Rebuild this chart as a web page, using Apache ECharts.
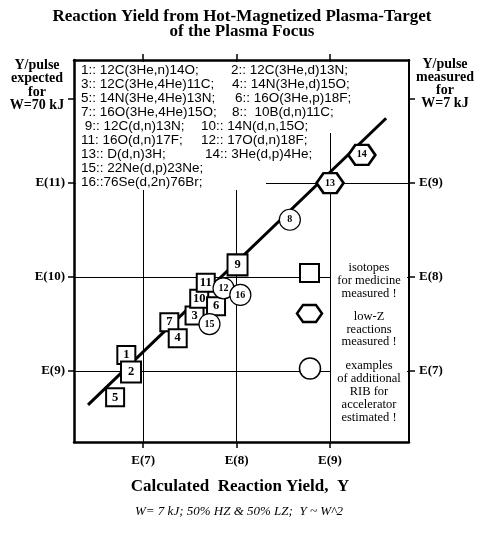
<!DOCTYPE html>
<html>
<head>
<meta charset="utf-8">
<script src="https://cdn.jsdelivr.net/npm/echarts@6/dist/echarts.min.js"></script>
<style>
  html, body { margin: 0; padding: 0; background: #fff; }
  #chart { width: 484px; height: 534px; }
</style>
</head>
<body>
<div id="chart"></div>
<script>
// all values are decades, i.e. log10 of the yield
const xTicks = [7, 8, 9];
const yLeftTicks = [9, 10, 11];
const yRightTicks = [7, 8, 9];

// isotopes for medicine (squares)
const boxIds = ['5', '1', '2', '7', '4', '3', '10', '6', '11', '9'];
const boxX = [6.70, 6.82, 6.87, 7.28, 7.37, 7.55, 7.60, 7.78, 7.67, 8.01];
const boxY = [8.72, 9.17, 8.99, 9.52, 9.35, 9.59, 9.77, 9.69, 9.94, 10.13];

// RIB examples (circles)
const ringIds = ['15', '12', '16', '8'];
const ringX = [7.71, 7.86, 8.04, 8.57];
const ringY = [9.50, 9.88, 9.81, 10.61];

// low-Z reactions (hexagons)
const hexIds = ['13', '14'];
const hexX = [9.00, 9.34];
const hexY = [11.00, 11.30];

// fitted trend line
const fitX = [6.41, 9.60];
const fitY = [8.64, 11.69];

const reactionsLeft = [
  '1:: 12C(3He,n)14O;', '3:: 12C(3He,4He)11C;', '5:: 14N(3He,4He)13N;',
  '7:: 16O(3He,4He)15O;', ' 9:: 12C(d,n)13N;', '11: 16O(d,n)17F;',
  '13:: D(d,n)3H;', '15:: 22Ne(d,p)23Ne;', '16::76Se(d,2n)76Br;'
];
const reactionsRight = [
  '2:: 12C(3He,d)13N;', '4:: 14N(3He,d)15O;', '6:: 16O(3He,p)18F;',
  '8::  10B(d,n)11C;', '10:: 14N(d,n,15O;', '12:: 17O(d,n)18F;',
  '14:: 3He(d,p)4He;'
];

const bigBoxes = ['2', '9'];
const serif = '"Liberation Serif", "Times New Roman", serif';
const sans = '"Liberation Sans", Arial, sans-serif';

const zip = (ids, xs, ys) => ids.map((id, i) => ({ name: id, value: [xs[i], ys[i]] }));
const eLabel = v => 'E(' + v + ')';

const chart = echarts.init(document.getElementById('chart'));

function axisBase(min, max, ticks, pos, showLabel) {
  return {
    type: 'value',
    position: pos,
    min: min,
    max: max,
    axisLine: { show: true, onZero: false, lineStyle: { color: '#000', width: 2.5 } },
    axisTick: { show: true, customValues: ticks, length: 6, lineStyle: { color: '#000', width: 1.5 } },
    axisLabel: {
      show: showLabel,
      customValues: showLabel ? ticks.filter(t => Number.isInteger(t)) : undefined,
      formatter: eLabel,
      fontFamily: serif, fontWeight: 'bold', fontSize: 13, color: '#000'
    },
    splitLine: { show: false }
  };
}

const xBottom = axisBase(6.26, 9.845, xTicks, 'bottom', true);
xBottom.axisLabel.margin = 12;
const xTop = axisBase(6.26, 9.845, xTicks, 'top', false);
const yLeft = axisBase(8.245, 12.31, yLeftTicks.concat([11.9]), 'left', true);
yLeft.axisLabel.margin = 9;
const yRight = axisBase(6.245, 10.31, yRightTicks.concat([9.9]), 'right', true);
yRight.axisLabel.margin = 10;
yRight.axisLine.lineStyle.width = 2;

// legend + annotation texts
const graphics = [];
const addText = (x, y, text, font, align) => graphics.push({
  type: 'text', x: x, y: y, z: 60,
  style: { text: text, font: font, fill: '#000', textAlign: align || 'center', textVerticalAlign: 'middle' }
});

// white areas that hide grid lines behind the texts
graphics.push({ type: 'rect', z: 50, shape: { x: 76, y: 62, width: 190, height: 128 }, style: { fill: '#fff' } });
graphics.push({ type: 'rect', z: 50, shape: { x: 76, y: 62, width: 277, height: 71 }, style: { fill: '#fff' } });
graphics.push({ type: 'rect', z: 50, shape: { x: 331, y: 185, width: 76, height: 255 }, style: { fill: '#fff' } });

reactionsLeft.forEach((t, i) => addText(81, 70 + i * 14, t, '13.5px ' + sans, 'left'));
const rightX = [231, 232, 235, 232, 201, 201, 205];
reactionsRight.forEach((t, i) => addText(rightX[i], 70 + i * 14, t, '13.5px ' + sans, 'left'));

const boldSerif = 'bold 14px ' + serif;
['Y/pulse', 'expected', 'for', 'W=70 kJ'].forEach((t, i) => addText(37, 65 + i * 13.5, t, boldSerif));
['Y/pulse', 'measured', 'for', 'W=7 kJ'].forEach((t, i) => addText(445, 64 + i * 13, t, boldSerif));

const legSerif = '500 12.5px ' + serif;
['isotopes', 'for medicine', 'measured !'].forEach((t, i) => addText(369, 268 + i * 13, t, legSerif));
['low-Z', 'reactions', 'measured !'].forEach((t, i) => addText(369, 317 + i * 12.5, t, legSerif));
['examples', 'of additional', 'RIB for', 'accelerator', 'estimated !'].forEach((t, i) => addText(369, 366 + i * 13, t, legSerif));

graphics.push({ type: 'rect', z: 60, shape: { x: 300, y: 264, width: 19, height: 18 }, style: { fill: '#fff', stroke: '#000', lineWidth: 2 } });
graphics.push({ type: 'polygon', z: 60, shape: { points: [[297, 313.5], [303, 305], [316, 305], [322, 313.5], [316, 322], [303, 322]] }, style: { fill: '#fff', stroke: '#000', lineWidth: 2.5 } });
graphics.push({ type: 'circle', z: 60, shape: { cx: 310, cy: 368.5, r: 10.5 }, style: { fill: '#fff', stroke: '#000', lineWidth: 1.5 } });

addText(240, 487, 'Calculated  Reaction Yield,  Y', 'bold 17px ' + serif);
addText(239, 512, 'W= 7 kJ; 50% HZ & 50% LZ;  Y ~ W^2', 'italic 13px ' + serif);

const markerLabel = size => ({
  show: true, position: 'inside', formatter: '{b}',
  fontFamily: serif, fontWeight: 'bold', fontSize: size, color: '#000'
});

const option = {
  animation: false,
  backgroundColor: '#fff',
  title: {
    text: 'Reaction Yield from Hot-Magnetized Plasma-Target\nof the Plasma Focus',
    left: 'center', top: 4,
    textStyle: { fontFamily: serif, fontWeight: 'bold', fontSize: 17, lineHeight: 15, color: '#000' }
  },
  grid: { left: 74, top: 60, width: 335, height: 382, containLabel: false },
  xAxis: [xBottom, xTop],
  yAxis: [yLeft, yRight],
  graphic: graphics,
  series: [
    {
      // grid lines at the labelled decades
      type: 'line', silent: true, z: 1, symbol: 'none', data: [],
      markLine: {
        silent: true, symbol: 'none', label: { show: false },
        lineStyle: { color: '#000', width: 1, type: 'solid' },
        data: xTicks.map(v => ({ xAxis: v })).concat(yLeftTicks.map(v => ({ yAxis: v })))
      }
    },
    {
      type: 'line', silent: true, z: 70, symbol: 'none',
      data: fitX.map((x, i) => [x, fitY[i]]),
      lineStyle: { color: '#000', width: 3 }
    },
    {
      type: 'scatter', z: 71, symbol: 'rect',
      symbolSize: (v, p) => bigBoxes.includes(p.name) ? [20, 21] : [18, 18],
      data: zip(boxIds, boxX, boxY),
      itemStyle: { color: '#fff', borderColor: '#000', borderWidth: 2, opacity: 1 },
      label: markerLabel(12.5)
    },
    {
      type: 'scatter', z: 72, symbol: 'circle', symbolSize: 21,
      data: zip(ringIds, ringX, ringY),
      itemStyle: { color: '#fff', borderColor: '#000', borderWidth: 1.2, opacity: 1 },
      label: markerLabel(10)
    },
    {
      type: 'scatter', z: 72,
      symbol: 'path://M0,10 L7,0 L20,0 L27,10 L20,20 L7,20 Z',
      symbolSize: [27, 20], symbolKeepAspect: false,
      data: zip(hexIds, hexX, hexY),
      itemStyle: { color: '#fff', borderColor: '#000', borderWidth: 2.5, opacity: 1 },
      label: markerLabel(10)
    }
  ]
};

chart.setOption(option);
</script>
</body>
</html>
